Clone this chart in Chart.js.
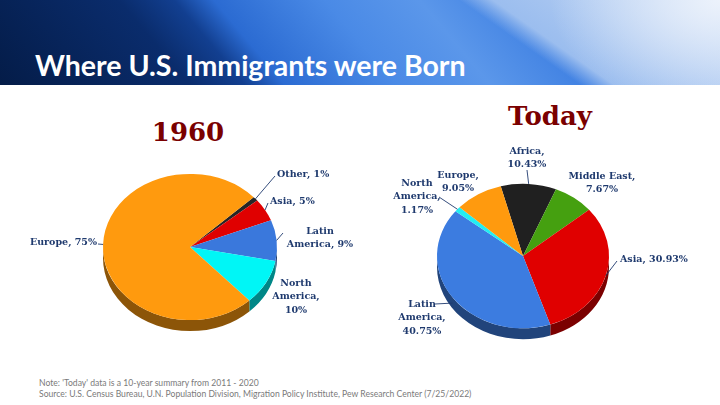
<!DOCTYPE html>
<html>
<head>
<meta charset="utf-8">
<script src="https://cdn.jsdelivr.net/npm/chart.js@4.4.1/dist/chart.umd.min.js"></script>
<style>
  html, body { margin: 0; padding: 0; }
  body { width: 720px; height: 405px; position: relative; overflow: hidden; background: #fff; font-family: Lato, sans-serif; }
  .header {
    position: absolute; left: 0; top: 0; width: 720px; height: 85px;
    background:
      radial-gradient(ellipse 170px 110px at 720px 0px, rgba(236,242,251,1), rgba(236,242,251,0) 100%),
      linear-gradient(35deg, rgba(160,192,238,0) 69%, rgba(165,196,240,0.9) 73%, rgba(205,222,246,0.95) 100%),
      linear-gradient(50deg, #041c48 0%, #0a2c6c 24%, #123f90 31%, #2b6bd2 36%, #4a8ae6 50%, #5b97ea 62%, #3f80e2 75%, #3a7ade 100%);
  }
  .header h1 {
    position: absolute; left: 35px; top: 48px; margin: 0;
    font: bold 28.5px Lato, sans-serif; color: #fff; white-space: nowrap;
  }
  .ptitle { position: absolute; font: bold 26px "DejaVu Serif", serif; color: #7a0000; text-align: center; width: 200px; }
  canvas { position: absolute; }
  .foot { position: absolute; left: 39px; top: 378px; font: 8.6px Lato, sans-serif; color: #7a7a7a; line-height: 11px; white-space: nowrap; }
</style>
</head>
<body>
<div class="header"><h1>Where U.S. Immigrants were Born</h1></div>
<div class="ptitle" style="left:88px; top:117px;">1960</div>
<div class="ptitle" style="left:450px; top:101px;">Today</div>
<canvas id="chart1960" style="left:0; top:100px; width:360px; height:265px;"></canvas>
<canvas id="chartToday" style="left:360px; top:100px; width:360px; height:265px;"></canvas>
<div class="foot">Note: 'Today' data is a 10-year summary from 2011 - 2020<br>Source: U.S. Census Bureau, U.N. Population Division, Migration Policy Institute, Pew Research Center (7/25/2022)</div>

<script>
// 1960
const regions1960 = ["Other", "Asia", "Latin America", "North America", "Europe"];
const share1960 = [1, 5, 9, 10, 75];
const colors1960 = ["#262626", "#e00000", "#3a78dc", "#00f6f6", "#ff9a0e"];

// Today (2011 - 2020)
const regionsToday = ["Africa", "Middle East", "Asia", "Latin America", "North America", "Europe"];
const shareToday = [10.43, 7.67, 30.93, 40.75, 1.17, 9.05];
const colorsToday = ["#202020", "#45a010", "#e00000", "#3c7ce0", "#22eef2", "#ff9a0e"];

const TILT = 0.84;  // vertical squash of the pie face
const DEPTH = 11;   // height of the pie side

function shade(hex, f) {
    const n = parseInt(hex.slice(1), 16);
    const r = Math.round(((n >> 16) & 255) * f);
    const g = Math.round(((n >> 8) & 255) * f);
    const b = Math.round((n & 255) * f);
    return `rgb(${r},${g},${b})`;
}

/**
 * Fake 3D: squash the face and paint the visible side under it
 */
const tiltPlugin = {
    id: "tilt",
    beforeDatasetsDraw(chart) {
        const ctx = chart.ctx;
        const arcs = chart.getDatasetMeta(0).data;
        const colors = chart.data.datasets[0].backgroundColor;
        const cx = arcs[0].x, cy = arcs[0].y;
        ctx.save();
        ctx.translate(cx, cy);
        ctx.scale(1, TILT);
        arcs.forEach((arc, i) => {
            const r = arc.outerRadius;
            for (let k = -1; k <= 2; k++) {
                const lo = Math.max(arc.startAngle, 2 * Math.PI * k);
                const hi = Math.min(arc.endAngle, 2 * Math.PI * k + Math.PI);
                if (hi <= lo) continue;
                ctx.beginPath();
                ctx.arc(0, 0, r, lo, hi);
                ctx.arc(0, DEPTH / TILT, r, hi, lo, true);
                ctx.closePath();
                ctx.fillStyle = shade(colors[i], 0.55);
                ctx.fill();
            }
        });
        ctx.restore();
        // squash the face drawn by the library
        ctx.save();
        ctx.translate(cx, cy);
        ctx.scale(1, TILT);
        ctx.translate(-cx, -cy);
    },
    afterDatasetsDraw(chart) {
        chart.ctx.restore();
    }
};

/**
 * Labels with leader lines, drawn outside the tilted pie
 */
const labelPlugin = {
    id: "sliceLabels",
    afterDraw(chart, args, opts) {
        const ctx = chart.ctx;
        const arcs = chart.getDatasetMeta(0).data;
        ctx.save();
        ctx.font = "bold 9.5px 'DejaVu Serif', serif";
        ctx.fillStyle = "#1f3a6e";
        ctx.strokeStyle = "#1f3a6e";
        ctx.lineWidth = 0.9;
        ctx.textBaseline = "middle";
        opts.place.forEach((p, i) => {
            const arc = arcs[i];
            const mid = (arc.startAngle + arc.endAngle) / 2;
            const ex = arc.x + arc.outerRadius * Math.cos(mid);
            const ey = arc.y + TILT * arc.outerRadius * Math.sin(mid) + (Math.sin(mid) > 0.3 ? DEPTH / 2 : 0);
            const tx = arc.x + p.dx, ty = arc.y + p.dy;
            if (p.line) {
                ctx.beginPath();
                ctx.moveTo(ex, ey);
                ctx.lineTo(tx + p.line[0], ty + p.line[1]);
                ctx.stroke();
            }
            const lines = p.text;
            ctx.textAlign = p.align;
            const lh = 13.5;
            lines.forEach((t, j) => {
                ctx.fillText(t, tx, ty + (j - (lines.length - 1) / 2) * lh);
            });
        });
        ctx.restore();
    }
};

function makePie(id, labels, values, colors, rotation, padding, place) {
    return new Chart(document.getElementById(id), {
        type: "pie",
        data: {
            labels: labels,
            datasets: [{
                data: values,
                backgroundColor: colors,
                borderWidth: 0,
                clip: false,
            }],
        },
        options: {
            responsive: false,
            animation: false,
            rotation: rotation,
            layout: { padding: padding },
            plugins: {
                legend: { display: false },
                tooltip: { enabled: false },
                sliceLabels: { place: place },
            },
        },
        plugins: [tiltPlugin, labelPlugin],
    });
}

function sizeCanvas(id) {
    const c = document.getElementById(id);
    c.width = 360; c.height = 265;
}
sizeCanvas("chart1960");
sizeCanvas("chartToday");

// label placement relative to the pie centre (order follows the data)
const place1960 = [
    { text: ["Other, 1%"], dx: 87, dy: -72, align: "left", line: [-2, 1] },
    { text: ["Asia, 5%"], dx: 80, dy: -45, align: "left", line: [-2, 1] },
    { text: ["Latin", "America, 9%"], dx: 130, dy: -9, align: "center", line: [-37, -5] },
    { text: ["North", "America,", "10%"], dx: 106, dy: 50, align: "center" },
    { text: ["Europe, 75%"], dx: -93, dy: -4, align: "right", line: [1, 1] },
];
const placeToday = [
    { text: ["Africa,", "10.43%"], dx: 4, dy: -98, align: "center", line: [0, 12] },
    { text: ["Middle East,", "7.67%"], dx: 79, dy: -73, align: "center" },
    { text: ["Asia, 30.93%"], dx: 97, dy: 4, align: "left", line: [-3, 1] },
    { text: ["Latin", "America,", "40.75%"], dx: -101, dy: 62, align: "center", line: [13, -14] },
    { text: ["North", "America,", "1.17%"], dx: -106, dy: -59, align: "center", line: [22, 0] },
    { text: ["Europe,", "9.05%"], dx: -65, dy: -74, align: "center" },
];

// 1960: centre (190,247) rx 87 ; Today: centre (523,256) rx 86
makePie("chart1960", regions1960, share1960, colors1960, 47,
    { left: 103, right: 360 - 277, top: 147 - 87, bottom: 265 - (147 + 87) }, place1960);
makePie("chartToday", regionsToday, shareToday, colorsToday, -15,
    { left: 77, right: 360 - 249, top: 156 - 86, bottom: 265 - (156 + 86) }, placeToday);
</script>
</body>
</html>
